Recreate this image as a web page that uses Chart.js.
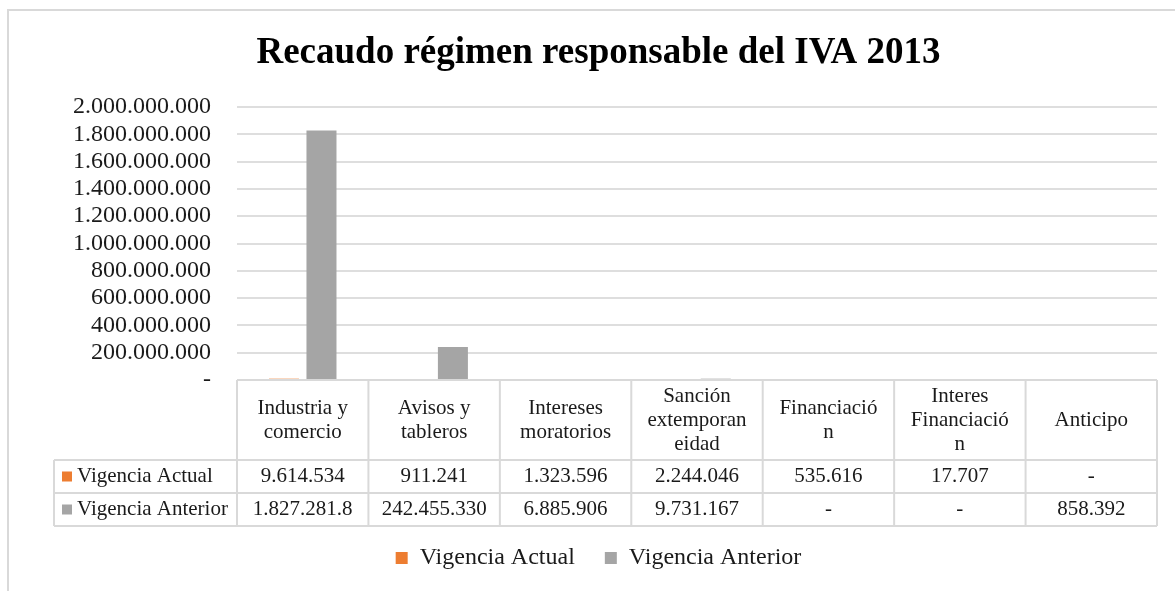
<!DOCTYPE html>
<html lang="es">
<head>
<meta charset="utf-8">
<title>Recaudo régimen responsable del IVA 2013</title>
<script src="https://cdn.jsdelivr.net/npm/chart.js@4.4.1/dist/chart.umd.min.js"></script>
<style>
    html, body { margin: 0; padding: 0; background: #fff; }
    #wrap { position: relative; width: 1175px; height: 591px; }
</style>
</head>
<body>
<div id="wrap">
    <canvas id="recaudoChart" width="1175" height="591"></canvas>
</div>
<script>
// Datos del gráfico
const categories = [
    ['Industria y', 'comercio'],
    ['Avisos y', 'tableros'],
    ['Intereses', 'moratorios'],
    ['Sanción', 'extemporan', 'eidad'],
    ['Financiació', 'n'],
    ['Interes', 'Financiació', 'n'],
    ['Anticipo']
];
const vigenciaActual = [9614534, 911241, 1323596, 2244046, 535616, 17707, 0];
const vigenciaAnterior = [1827281800, 242455330, 6885906, 9731167, 0, 0, 858392];
const seriesNames = ['Vigencia Actual', 'Vigencia Anterior'];
const yMax = 2000000000;
const yStep = 200000000;

const COLOR_ACTUAL = '#ED7D31';
const COLOR_ANTERIOR = '#A5A5A5';
const LINE_COLOR = '#d9d9d9';
const TEXT_COLOR = '#1a1a1a';
const FONT = '"Liberation Serif", "Times New Roman", serif';

// Formato con punto como separador de miles, cero como guion
function formatNumber(value) {
    if (!value) return '-';
    return Math.round(value).toString().replace(/\B(?=(\d{3})+(?!\d))/g, '.');
}

// Recorta el texto si no cabe en la celda (como hace Excel)
function fitText(ctx, text, maxWidth) {
    let t = text;
    while (t.length > 1 && ctx.measureText(t).width > maxWidth) {
        t = t.slice(0, -1);
    }
    return t;
}

// Tabla de datos bajo el eje y borde exterior
const dataTablePlugin = {
    id: 'dataTable',
    beforeDraw(chart) {
        const ctx = chart.ctx;
        ctx.save();
        ctx.strokeStyle = LINE_COLOR;
        ctx.lineWidth = 2;
        ctx.beginPath();
        ctx.moveTo(8, chart.height);
        ctx.lineTo(8, 10);
        ctx.lineTo(chart.width, 10);
        ctx.stroke();
        ctx.restore();
    },
    afterDraw(chart) {
        const { ctx, chartArea, scales } = chart;
        const x = scales.x;
        const n = categories.length;
        const colW = (chartArea.right - chartArea.left) / n;
        const top = chartArea.bottom;
        const headH = 80;
        const rowH = 33;
        const labelLeft = 54;
        const bottom = top + headH + rowH * 2;

        ctx.save();
        ctx.strokeStyle = LINE_COLOR;
        ctx.lineWidth = 2;
        ctx.beginPath();
        ctx.moveTo(chartArea.left, top);
        ctx.lineTo(chartArea.right, top);
        for (let r = 1; r <= 3; r++) {
            const y = top + headH + rowH * (r - 1);
            ctx.moveTo(labelLeft, y);
            ctx.lineTo(chartArea.right, y);
        }
        for (let i = 0; i <= n; i++) {
            const xx = chartArea.left + colW * i;
            ctx.moveTo(xx, top);
            ctx.lineTo(xx, bottom);
        }
        ctx.moveTo(labelLeft, top + headH);
        ctx.lineTo(labelLeft, bottom);
        ctx.stroke();

        ctx.font = '21px ' + FONT;
        ctx.fillStyle = TEXT_COLOR;
        ctx.textBaseline = 'middle';
        ctx.textAlign = 'center';

        // Encabezados de categoría
        categories.forEach((lines, i) => {
            const cx = x.getPixelForValue(i);
            const cy = top + headH / 2;
            lines.forEach((line, k) => {
                ctx.fillText(line, cx, cy + (k - (lines.length - 1) / 2) * 24);
            });
        });

        // Filas de valores
        const rows = [vigenciaActual, vigenciaAnterior];
        const colors = [COLOR_ACTUAL, COLOR_ANTERIOR];
        rows.forEach((values, r) => {
            const cy = top + headH + rowH * r + rowH / 2;
            ctx.textAlign = 'center';
            ctx.fillStyle = TEXT_COLOR;
            values.forEach((v, i) => {
                const txt = fitText(ctx, formatNumber(v), colW - 22);
                ctx.fillText(txt, x.getPixelForValue(i), cy);
            });
            ctx.fillStyle = colors[r];
            ctx.fillRect(62, cy - 5, 10, 10);
            ctx.fillStyle = TEXT_COLOR;
            ctx.textAlign = 'left';
            ctx.fillText(seriesNames[r], 77, cy);
        });
        ctx.restore();
    }
};

const ctx = document.getElementById('recaudoChart');
new Chart(ctx, {
    type: 'bar',
    data: {
        labels: categories,
        datasets: [
            {
                label: seriesNames[0],
                data: vigenciaActual,
                backgroundColor: COLOR_ACTUAL,
                categoryPercentage: 0.571,
                barPercentage: 0.8
            },
            {
                label: seriesNames[1],
                data: vigenciaAnterior,
                backgroundColor: COLOR_ANTERIOR,
                categoryPercentage: 0.571,
                barPercentage: 0.8
            }
        ]
    },
    options: {
        responsive: false,
        animation: false,
        devicePixelRatio: 1,
        layout: {
            padding: { top: 10, left: 40, right: 18, bottom: 11 }
        },
        plugins: {
            title: {
                display: true,
                text: 'Recaudo régimen responsable del IVA 2013',
                color: '#000',
                font: { family: FONT, size: 37, weight: 'bold' },
                padding: { top: 20.8, bottom: 31.8 }
            },
            legend: {
                position: 'bottom',
                labels: {
                    color: TEXT_COLOR,
                    font: { family: FONT, size: 24 },
                    boxWidth: 12,
                    boxHeight: 12,
                    padding: 30
                }
            },
            tooltip: { enabled: false }
        },
        scales: {
            x: {
                ticks: { display: false },
                grid: { display: false },
                border: { display: false },
                afterFit(scale) { scale.height = 136; }
            },
            y: {
                min: 0,
                max: yMax,
                ticks: {
                    stepSize: yStep,
                    autoSkip: false,
                    padding: 26,
                    color: TEXT_COLOR,
                    font: { family: FONT, size: 24 },
                    callback: function(value) {
                        return formatNumber(value);
                    }
                },
                grid: { color: '#dedede', lineWidth: 2, drawTicks: false },
                border: { display: false },
                afterFit(scale) { scale.width = 197; }
            }
        }
    },
    plugins: [dataTablePlugin]
});
</script>
</body>
</html>
